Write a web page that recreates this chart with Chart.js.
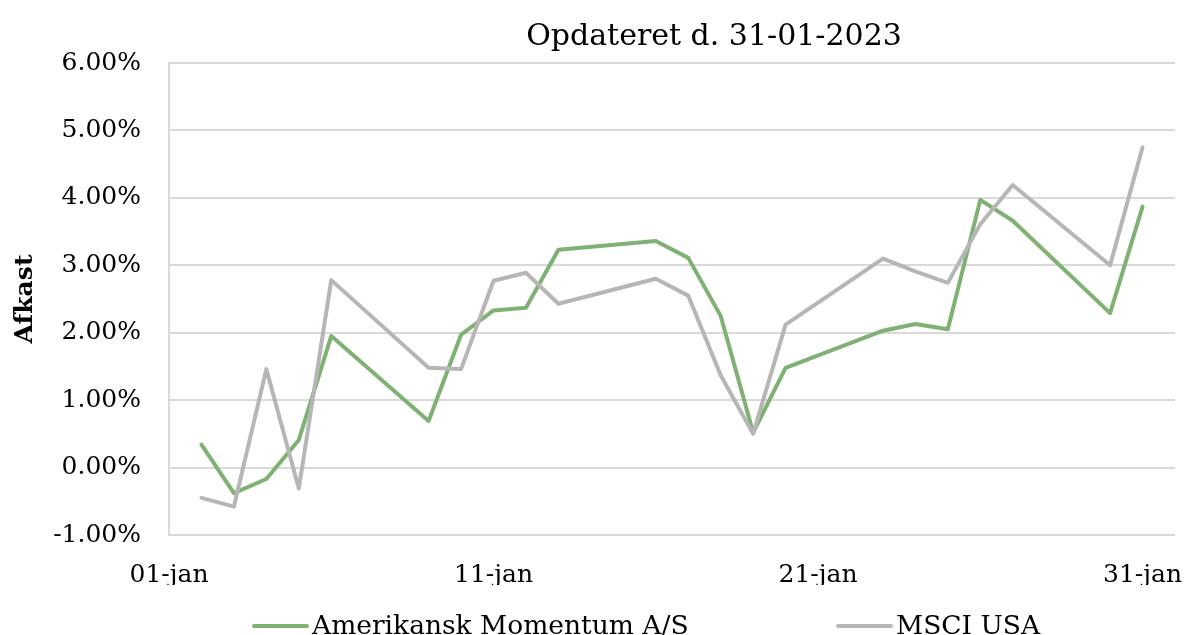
<!DOCTYPE html>
<html><head><meta charset="utf-8">
<script src="https://cdn.jsdelivr.net/npm/chart.js@4/dist/chart.umd.min.js"></script>
<style>html,body{margin:0;padding:0;background:#fff}#wrap{width:1187px;height:635px;overflow:hidden}</style>
</head><body><div id="wrap"><canvas id="c" width="1187" height="635"></canvas></div>
<script>
const days = [2,3,4,5,6,9,10,11,12,13,16,17,18,19,20,23,24,25,26,27,30,31];
const momentum = [0.34,-0.38,-0.17,0.41,1.95,0.69,1.97,2.33,2.37,3.23,3.36,3.11,2.25,0.52,1.48,2.03,2.13,2.05,3.97,3.66,2.29,3.87];
const msci = [-0.45,-0.58,1.46,-0.31,2.78,1.48,1.46,2.77,2.89,2.43,2.80,2.55,1.37,0.50,2.12,3.10,2.91,2.74,3.61,4.19,3.00,4.75];
const xTicks = [1,11,21,31];
const yTicks = [-1,0,1,2,3,4,5,6];
const monthLabel = 'jan';
const seriesNames = ['Amerikansk Momentum A/S','MSCI USA'];
const titleText = 'Opdateret d. 31-01-2023';
const yTitle = 'Afkast';

const FONT = "'DejaVu Serif', 'Liberation Serif', serif";
const GREEN = '#7fb174';
const GRAY = '#b6b6b6';

const textPlugin = {
  id: 'titleAndLegend',
  afterDraw(chart) {
    const ctx = chart.ctx;
    ctx.save();
    // title
    ctx.font = '30px ' + FONT;
    ctx.fillStyle = '#000';
    ctx.textAlign = 'center';
    ctx.textBaseline = 'alphabetic';
    ctx.fillText(titleText, 714, 45);
    // legend
    const starts = [254, 838];
    ctx.font = '26.5px ' + FONT;
    ctx.textAlign = 'left';
    chart.data.datasets.forEach((ds, i) => {
      const x = starts[i];
      ctx.strokeStyle = ds.borderColor;
      ctx.lineWidth = 4;
      ctx.lineCap = 'round';
      ctx.beginPath();
      ctx.moveTo(x, 626);
      ctx.lineTo(x + 53, 626);
      ctx.stroke();
      ctx.fillText(ds.label, x + 58, 634);
    });
    ctx.restore();
  }
};

new Chart(document.getElementById('c'), {
  type: 'line',
  data: {
    datasets: [
      { label: seriesNames[0], data: days.map((d, i) => ({x: d, y: momentum[i]})), borderColor: GREEN, backgroundColor: GREEN, order: 1 },
      { label: seriesNames[1], data: days.map((d, i) => ({x: d, y: msci[i]})), borderColor: GRAY, backgroundColor: GRAY, order: 0 }
    ]
  },
  options: {
    responsive: false,
    devicePixelRatio: 1,
    animation: false,
    layout: { padding: { left: 0, right: 12, top: 63, bottom: 50 } },
    elements: {
      line: { borderWidth: 4, tension: 0, borderJoinStyle: 'round', borderCapStyle: 'round' },
      point: { radius: 0, hoverRadius: 0 }
    },
    plugins: {
      legend: { display: false },
      tooltip: { enabled: false },
      title: { display: false }
    },
    scales: {
      x: {
        type: 'linear', min: 1, max: 32,
        afterBuildTicks: s => { s.ticks = xTicks.map(v => ({ value: v })); },
        afterFit: s => { s.height = 50; s.paddingLeft = 0; s.paddingRight = 0; },
        grid: { display: false },
        border: { display: false },
        ticks: {
          autoSkip: false, maxRotation: 0, padding: 17, color: '#000',
          font: { family: FONT, size: 25 },
          callback: v => String(v).padStart(2, '0') + '-' + monthLabel
        }
      },
      y: {
        min: -1, max: 6,
        afterBuildTicks: s => { s.ticks = yTicks.map(v => ({ value: v })); },
        afterFit: s => { s.width = 169; s.paddingTop = 0; s.paddingBottom = 0; },
        grid: { color: '#d9d9d9', lineWidth: 2, drawTicks: false },
        border: { display: true, color: '#d9d9d9', width: 2 },
        ticks: {
          padding: 28, color: '#000',
          font: { family: FONT, size: 25 },
          callback: v => v.toFixed(2) + '%'
        },
        title: {
          display: true, text: yTitle, color: '#000',
          font: { family: FONT, size: 25, weight: 'bold' },
          padding: { top: 10, bottom: 0 }
        }
      }
    }
  },
  plugins: [textPlugin]
});
</script>
</body></html>
